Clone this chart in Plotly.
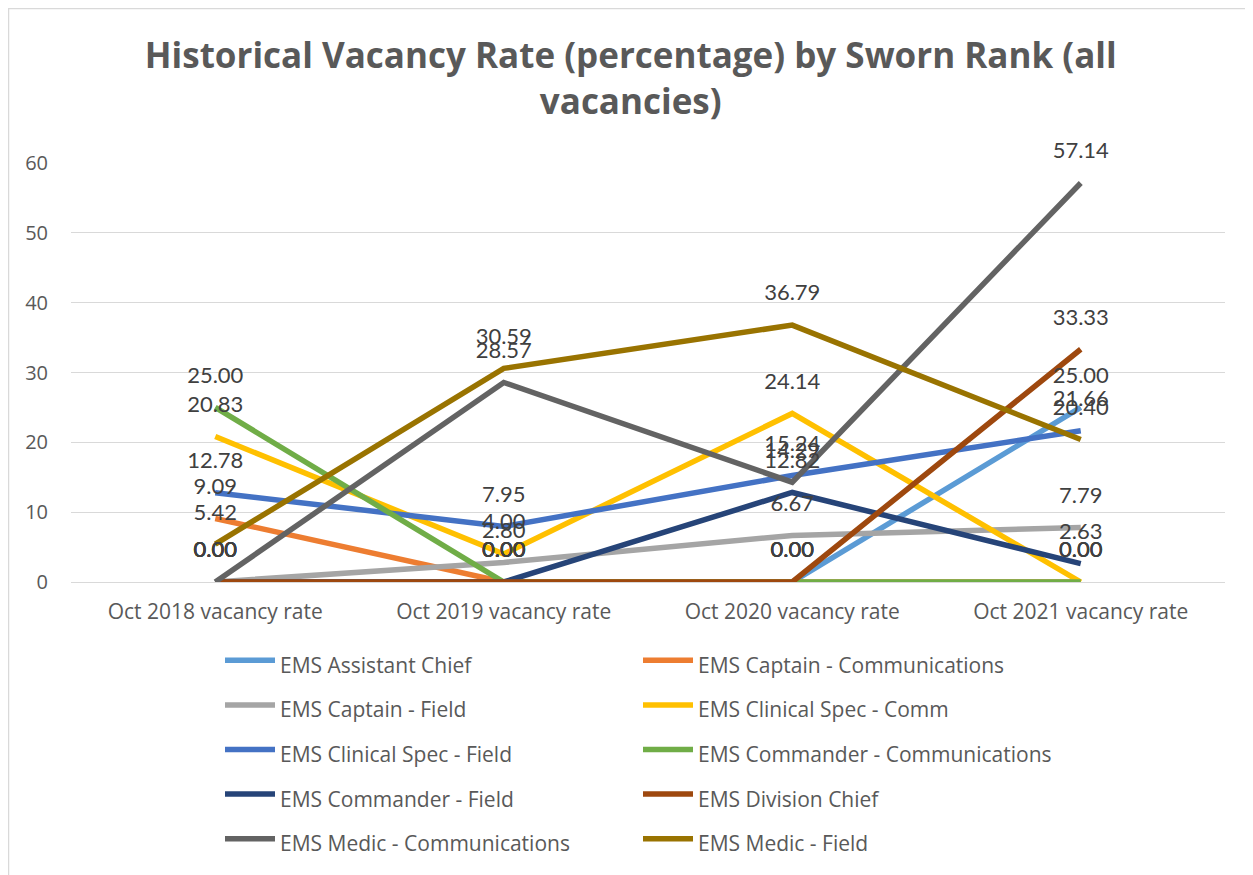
import plotly.graph_objects as go

categories = ["Oct 2018 vacancy rate", "Oct 2019 vacancy rate", "Oct 2020 vacancy rate", "Oct 2021 vacancy rate"]
series_names = [
    "EMS Assistant Chief", "EMS Captain - Communications",
    "EMS Captain - Field", "EMS Clinical Spec - Comm",
    "EMS Clinical Spec - Field", "EMS Commander - Communications",
    "EMS Commander - Field", "EMS Division Chief",
    "EMS Medic - Communications", "EMS Medic - Field",
]
assistant_chief = [0.00, 0.00, 0.00, 25.00]
captain_comm = [9.09, 0.00, 0.00, 0.00]
captain_field = [0.00, 2.80, 6.67, 7.79]
clinical_comm = [20.83, 4.00, 24.14, 0.00]
clinical_field = [12.78, 7.95, 15.24, 21.66]
commander_comm = [25.00, 0.00, 0.00, 0.00]
commander_field = [0.00, 0.00, 12.82, 2.63]
division_chief = [0.00, 0.00, 0.00, 33.33]
medic_comm = [0.00, 28.57, 14.29, 57.14]
medic_field = [5.42, 30.59, 36.79, 20.40]

all_values = [assistant_chief, captain_comm, captain_field, clinical_comm, clinical_field,
              commander_comm, commander_field, division_chief, medic_comm, medic_field]
colors = ["#5B9BD5", "#ED7D31", "#A5A5A5", "#FFC000", "#4472C4",
          "#70AD47", "#264478", "#9E480E", "#636363", "#997300"]

FONT = "Open Sans"

fig = go.Figure()
for name, vals, c in zip(series_names, all_values, colors):
    fig.add_trace(go.Scatter(
        x=categories, y=vals, mode="lines",
        name=f"<span style='font-size:21px'>{name}</span>",
        line=dict(color=c, width=5.5), hoverinfo="skip"))
for name, vals, c in zip(series_names, all_values, colors):
    fig.add_trace(go.Scatter(
        x=categories, y=vals, mode="markers+text", showlegend=False,
        marker=dict(size=29, opacity=0),
        text=[f"{v:.2f}" for v in vals], textposition="top center",
        textfont=dict(family="Lato", size=22, color="#404040"),
        cliponaxis=False, hoverinfo="skip"))

# page pixels = figure pixels + 8 (body margin)
W, H = 1253, 875
ml, mr, mt, mb = 63, 36, 155, 301
pw, ph = W - ml - mr, H - mt - mb
def px(x):
    return (x - ml) / pw
def py(y):
    return (H - mb - y) / ph

fig.update_layout(
    width=W, height=H,
    margin=dict(l=ml, r=mr, t=mt, b=mb, autoexpand=False),
    paper_bgcolor="white", plot_bgcolor="white",
    title=dict(text="<b>Historical Vacancy Rate (percentage) by Sworn Rank (all<br>vacancies)</b>",
               x=0.497, xanchor="center", y=0.931, yanchor="top",
               font=dict(family=FONT, size=35, color="#595959")),
    xaxis=dict(range=[-0.5, 3.5], showgrid=False, showline=True, linecolor="#D9D9D9",
               linewidth=1, ticks="", ticklabelstandoff=11,
               tickfont=dict(family=FONT, size=21, color="#595959")),
    yaxis=dict(range=[0, 60], dtick=10, showgrid=True, gridcolor="#D9D9D9", gridwidth=1,
               zeroline=False, ticks="", ticklabelstandoff=22,
               tickfont=dict(family=FONT, size=20, color="#595959")),
    legend=dict(orientation="h", x=px(212), y=py(625), xanchor="left", yanchor="top",
                entrywidth=353, entrywidthmode="pixels",
                font=dict(family=FONT, size=32, color="#595959"), itemwidth=50),
    shapes=[dict(type="rect", xref="paper", yref="paper",
                 x0=px(0.5), x1=px(1300), y0=py(900), y1=py(0.5),
                 line=dict(color="#D9D9D9", width=1.5))],
)
fig.write_html("out.html")
